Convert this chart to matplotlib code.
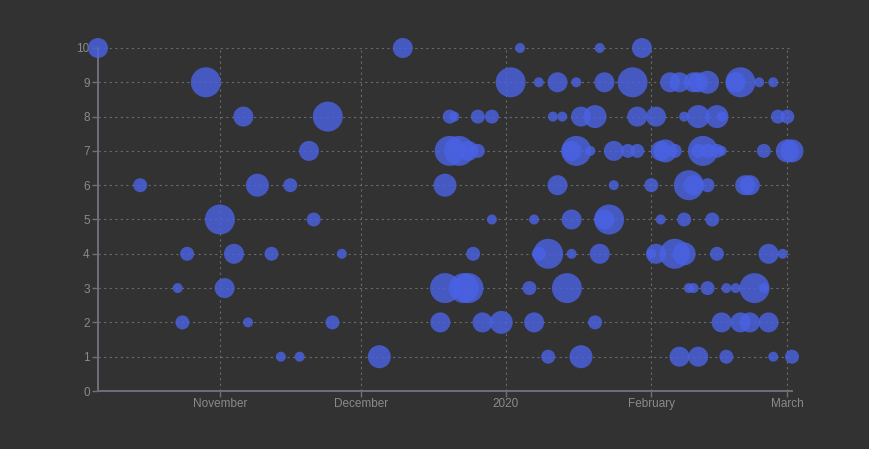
import numpy as np
import pandas as pd
import matplotlib
matplotlib.use("Agg")
import matplotlib.pyplot as plt

plt.rcParams["font.family"] = ["Liberation Sans", "DejaVu Sans"]

# (date, level, magnitude)
dates = [
    # level 10
    "2019-10-06", "2019-12-10", "2020-01-04", "2020-01-21", "2020-01-30",
    # level 9
    "2019-10-29", "2020-01-02", "2020-01-08", "2020-01-12", "2020-01-16", "2020-01-22",
    "2020-01-28", "2020-02-05", "2020-02-07", "2020-02-10", "2020-02-11", "2020-02-13",
    "2020-02-19", "2020-02-20", "2020-02-24", "2020-02-27",
    # level 8
    "2019-11-06", "2019-11-24", "2019-12-20", "2019-12-21", "2019-12-26", "2019-12-29",
    "2020-01-11", "2020-01-13", "2020-01-17", "2020-01-20", "2020-01-29", "2020-02-02",
    "2020-02-08", "2020-02-11", "2020-02-15", "2020-02-16", "2020-02-28", "2020-03-01",
    # level 7
    "2019-11-20", "2019-12-20", "2019-12-22", "2019-12-24", "2019-12-26", "2020-01-15",
    "2020-01-16", "2020-01-19", "2020-01-24", "2020-01-27", "2020-01-29", "2020-02-03",
    "2020-02-04", "2020-02-06", "2020-02-11", "2020-02-12", "2020-02-13", "2020-02-15",
    "2020-02-16", "2020-02-25", "2020-03-01", "2020-03-02",
    # level 6
    "2019-10-15", "2019-11-09", "2019-11-16", "2019-12-19", "2020-01-12", "2020-01-24",
    "2020-02-01", "2020-02-09", "2020-02-10", "2020-02-13", "2020-02-21", "2020-02-22",
    # level 5
    "2019-11-01", "2019-11-21", "2019-12-29", "2020-01-07", "2020-01-15", "2020-01-22",
    "2020-01-23", "2020-02-03", "2020-02-08", "2020-02-14",
    # level 4
    "2019-10-25", "2019-11-04", "2019-11-12", "2019-11-27", "2019-12-25", "2020-01-08",
    "2020-01-10", "2020-01-15", "2020-01-21", "2020-02-01", "2020-02-02", "2020-02-06",
    "2020-02-08", "2020-02-15", "2020-02-26", "2020-02-29",
    # level 3
    "2019-10-23", "2019-11-02", "2019-12-19", "2019-12-23", "2019-12-24", "2020-01-06",
    "2020-01-14", "2020-02-09", "2020-02-10", "2020-02-13", "2020-02-17", "2020-02-19",
    "2020-02-23", "2020-02-25",
    # level 2
    "2019-10-24", "2019-11-07", "2019-11-25", "2019-12-18", "2019-12-27", "2019-12-31",
    "2020-01-07", "2020-01-20", "2020-02-16", "2020-02-20", "2020-02-22", "2020-02-26",
    # level 1
    "2019-11-14", "2019-11-18", "2019-12-05", "2020-01-10", "2020-01-17", "2020-02-07",
    "2020-02-11", "2020-02-17", "2020-02-27", "2020-03-02",
]

levels = (
    [10] * 5 + [9] * 16 + [8] * 18 + [7] * 22 + [6] * 12
    + [5] * 10 + [4] * 16 + [3] * 14 + [2] * 12 + [1] * 10
)

magnitudes = [
    # 10
    3, 3, 1, 1, 3,
    # 9
    5, 5, 1, 3, 1, 3, 5, 3, 3, 3, 3, 4, 3, 5, 1, 1,
    # 8
    3, 5, 2, 1, 2, 2, 1, 1, 3, 4, 3, 3, 1, 4, 4, 1, 2, 2,
    # 7
    3, 5, 5, 3, 2, 3, 5, 1, 3, 2, 2, 3, 4, 2, 2, 5, 2, 2, 1, 2, 4, 4,
    # 6
    2, 4, 2, 4, 3, 1, 2, 5, 3, 2, 3, 3,
    # 5
    5, 2, 1, 1, 3, 3, 5, 1, 2, 2,
    # 4
    2, 3, 2, 1, 2, 2, 5, 1, 3, 1, 3, 5, 4, 2, 3, 1,
    # 3
    1, 3, 5, 5, 5, 2, 5, 1, 1, 2, 1, 1, 5, 1,
    # 2
    2, 1, 2, 3, 3, 4, 3, 2, 3, 3, 3, 3,
    # 1
    1, 1, 4, 2, 4, 3, 3, 2, 1, 2,
]

tick_dates = ["2019-11-01", "2019-12-01", "2020-01-01", "2020-02-01", "2020-03-01"]
tick_labels = ["November", "December", "2020", "February", "March"]

df = pd.DataFrame({"date": pd.to_datetime(dates), "level": levels, "mag": magnitudes})

bg = "#323232"
axis_col = "#6e7079"
text_col = "#8a8a8a"
grid_col = "#6a6a6a"

radius_px = {1: 5, 2: 7, 3: 10, 4: 11.5, 5: 15}
diam_pt = df["mag"].map(radius_px) * 2 * 0.72
sizes = diam_pt ** 2

fig = plt.figure(figsize=(8.7, 4.49), dpi=100, facecolor=bg)
ax = fig.add_axes([98 / 870, 58 / 449, 694 / 870, 343 / 449])
ax.set_facecolor(bg)

ax.scatter(df["date"], df["level"], s=sizes, color="#4a63e6", alpha=0.8,
           linewidths=0, clip_on=False, zorder=3)

ax.set_xlim(pd.Timestamp("2019-10-06"), pd.Timestamp("2020-03-02"))
ax.set_ylim(0, 10)

ax.set_xticks(pd.to_datetime(tick_dates))
ax.set_xticklabels(tick_labels)
ax.set_yticks(range(0, 11))

for y in range(1, 11):
    ax.axhline(y, color=grid_col, lw=0.8, ls=(0, (2, 3)), zorder=1)
for t in pd.to_datetime(tick_dates):
    ax.axvline(t, color=grid_col, lw=0.8, ls=(0, (2, 3)), zorder=1)

for s in ["top", "right"]:
    ax.spines[s].set_visible(False)
for s in ["left", "bottom"]:
    ax.spines[s].set_color(axis_col)
    ax.spines[s].set_linewidth(1.4)

ax.tick_params(axis="both", colors=axis_col, labelcolor=text_col,
               labelsize=8.5, length=4, width=1)
ax.tick_params(axis="y", pad=2)
ax.tick_params(axis="x", pad=1)

fig.savefig("out.png", dpi=100, facecolor=bg)
